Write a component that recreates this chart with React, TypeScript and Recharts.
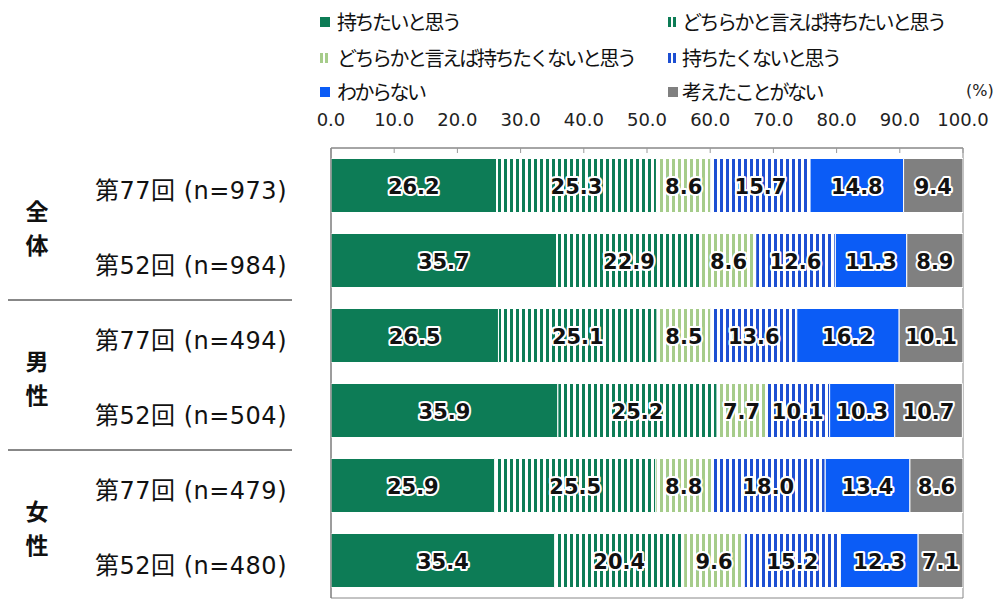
import React from 'react';
import { BarChart, Bar, XAxis, YAxis, LabelList, ReferenceArea } from 'recharts';

// ---- data ----
const categories = ['第77回 (n=973)', '第52回 (n=984)', '第77回 (n=494)', '第52回 (n=504)', '第77回 (n=479)', '第52回 (n=480)'];
const groups = ['全体', '男性', '女性'];
const seriesNames = [
  '持ちたいと思う',
  'どちらかと言えば持ちたいと思う',
  'どちらかと言えば持ちたくないと思う',
  '持ちたくないと思う',
  'わからない',
  '考えたことがない',
];
const want = [26.2, 35.7, 26.5, 35.9, 25.9, 35.4];
const ratherWant = [25.3, 22.9, 25.1, 25.2, 25.5, 20.4];
const ratherNotWant = [8.6, 8.6, 8.5, 7.7, 8.8, 9.6];
const notWant = [15.7, 12.6, 13.6, 10.1, 18.0, 15.2];
const dontKnow = [14.8, 11.3, 16.2, 10.3, 13.4, 12.3];
const neverThought = [9.4, 8.9, 10.1, 10.7, 8.6, 7.1];
const xTicks = [0, 10, 20, 30, 40, 50, 60, 70, 80, 90, 100];

const seriesValues = [want, ratherWant, ratherNotWant, notWant, dontKnow, neverThought];
const data = categories.map((name, i) => {
  const row: any = { name };
  seriesValues.forEach((vals, s) => (row['s' + s] = vals[i]));
  return row;
});

// ---- styles ----
const DARK_GREEN = '#0d7c56';
const LIGHT_GREEN = '#a6cc8a';
const STRIPE_BLUE = '#1d4fd2';
const BLUE = '#0b5cf6';
const GRAY = '#808080';
const fills = [DARK_GREEN, 'url(#pDarkGreen)', 'url(#pLightGreen)', 'url(#pBlue)', BLUE, GRAY];
const markerColors = [DARK_GREEN, DARK_GREEN, LIGHT_GREEN, STRIPE_BLUE, BLUE, GRAY];
const striped = [false, true, true, true, false, false];

const CJK = '"Noto Sans CJK JP", sans-serif';
const LATIN = '"DejaVu Sans", "Noto Sans CJK JP", sans-serif';

const W = 1000;
const H = 609;
const PLOT_TOP = 148;
const PLOT_BOTTOM = 11;
const Y_AXIS_W = 331;
const RIGHT = 37;
const BAND = (H - PLOT_TOP - PLOT_BOTTOM) / categories.length;
const X_TICK_MARGIN = 29;
const Y_TICK_MARGIN = 44;

const XTick = (props: any) => {
  const { x, y, payload } = props;
  const axisY = y + X_TICK_MARGIN;
  return (
    <g>
      <line x1={x} x2={x} y1={axisY} y2={axisY + 5} stroke="#999" strokeWidth={1} />
      <text x={x} y={y} textAnchor="middle" dominantBaseline="central" fontFamily={LATIN} fontSize={18} fill="#222">
        {Number(payload.value).toFixed(1)}
      </text>
    </g>
  );
};

const YTick = (props: any) => {
  const { x, y, payload, index } = props;
  const gi = Math.floor(index / 2);
  return (
    <g>
      <text x={x} y={y + 5} textAnchor="end" dominantBaseline="central" fontFamily={LATIN} fontSize={24} letterSpacing={0.5} fill="#111">
        {payload.value}
      </text>
      {index % 2 === 0 && (
        <g fontFamily={CJK} fontWeight="bold" fontSize={23} fill="#111" textAnchor="middle">
          <text x={37} y={y + BAND / 2 - 13} dominantBaseline="central">{groups[gi].charAt(0)}</text>
          <text x={37} y={y + BAND / 2 + 21} dominantBaseline="central">{groups[gi].charAt(1)}</text>
        </g>
      )}
      {index % 2 === 1 && index < categories.length - 1 && (
        <line x1={8} x2={292} y1={y + BAND / 2 + 2} y2={y + BAND / 2 + 2} stroke="#111" strokeWidth={1} />
      )}
    </g>
  );
};

const BarLabel = (props: any) => {
  const { x, y, width, height, value } = props;
  return (
    <text
      x={x + width / 2}
      y={y + height / 2 + 1}
      textAnchor="middle"
      dominantBaseline="central"
      fontFamily='"DejaVu Sans", sans-serif'
      fontWeight="bold"
      fontSize={21}
      fill="#111"
      stroke="#fff"
      strokeWidth={4}
      strokeLinejoin="round"
      paintOrder="stroke"
    >
      {Number(value).toFixed(1)}
    </text>
  );
};

const legendPos = [
  { mx: 320, tx: 337, y: 22 },
  { mx: 668, tx: 682, y: 22 },
  { mx: 320, tx: 337, y: 58 },
  { mx: 668, tx: 682, y: 58 },
  { mx: 320, tx: 337, y: 92 },
  { mx: 668, tx: 682, y: 92 },
];

const Legend = () => (
  <>
    {seriesNames.map((name, i) => {
      const p = legendPos[i];
      return (
        <React.Fragment key={name}>
          {striped[i] ? (
            <div style={{ position: 'absolute', left: p.mx, top: p.y - 5, width: 8, height: 10 }}>
              <div style={{ position: 'absolute', left: 0, top: 0, width: 2.5, height: 10, background: markerColors[i] }} />
              <div style={{ position: 'absolute', left: 5, top: 0, width: 2.5, height: 10, background: markerColors[i] }} />
            </div>
          ) : (
            <div style={{ position: 'absolute', left: p.mx, top: p.y - 5, width: 10, height: 10, background: markerColors[i] }} />
          )}
          <div
            style={{
              position: 'absolute',
              left: p.tx,
              top: p.y - 14,
              height: 28,
              lineHeight: '28px',
              fontFamily: CJK,
              fontSize: 20,
              letterSpacing: -2.5,
              color: '#111',
              whiteSpace: 'nowrap',
            }}
          >
            {name}
          </div>
        </React.Fragment>
      );
    })}
    <div
      style={{
        position: 'absolute',
        left: 966,
        top: 91 - 12,
        height: 24,
        lineHeight: '24px',
        fontFamily: LATIN,
        fontSize: 16,
        color: '#222',
        whiteSpace: 'nowrap',
      }}
    >
      (%)
    </div>
  </>
);

export default function App() {
  return (
    <div style={{ position: 'absolute', left: 0, top: 0, width: W, height: H, background: '#fff' }}>
      <svg width={0} height={0} style={{ position: 'absolute' }}>
        <defs>
          <pattern id="pDarkGreen" width={6} height={10} patternUnits="userSpaceOnUse">
            <rect width={6} height={10} fill="#fff" />
            <rect x={0} width={3} height={10} fill={DARK_GREEN} />
          </pattern>
          <pattern id="pLightGreen" width={6} height={10} patternUnits="userSpaceOnUse">
            <rect width={6} height={10} fill="#fff" />
            <rect x={0} width={3} height={10} fill={LIGHT_GREEN} />
          </pattern>
          <pattern id="pBlue" width={6} height={10} patternUnits="userSpaceOnUse">
            <rect width={6} height={10} fill="#fff" />
            <rect x={0} width={3} height={10} fill={STRIPE_BLUE} />
          </pattern>
        </defs>
      </svg>
      <BarChart
        width={W}
        height={H}
        data={data}
        layout="vertical"
        margin={{ top: 0, right: RIGHT, bottom: PLOT_BOTTOM, left: 0 }}
        barCategoryGap="14%"
      >
        <XAxis
          type="number"
          orientation="top"
          domain={[0, 100]}
          ticks={xTicks}
          allowDataOverflow
          height={PLOT_TOP}
          tickLine={false}
          tickSize={0}
          tickMargin={X_TICK_MARGIN}
          axisLine={{ stroke: '#888' }}
          tick={<XTick />}
          interval={0}
        />
        <YAxis
          type="category"
          dataKey="name"
          width={Y_AXIS_W}
          tickLine={false}
          tickSize={0}
          tickMargin={Y_TICK_MARGIN}
          axisLine={{ stroke: '#777' }}
          tick={<YTick />}
          interval={0}
        />
        {seriesNames.map((name, s) => (
          <Bar
            key={name}
            dataKey={'s' + s}
            name={name}
            stackId="a"
            fill={fills[s]}
            stroke="#fff"
            strokeWidth={1}
            isAnimationActive={false}
          >
            <LabelList dataKey={'s' + s} content={<BarLabel />} />
          </Bar>
        ))}
        <ReferenceArea x1={0} x2={100} fill="none" stroke="#888" strokeWidth={1} />
      </BarChart>
      <Legend />
    </div>
  );
}
